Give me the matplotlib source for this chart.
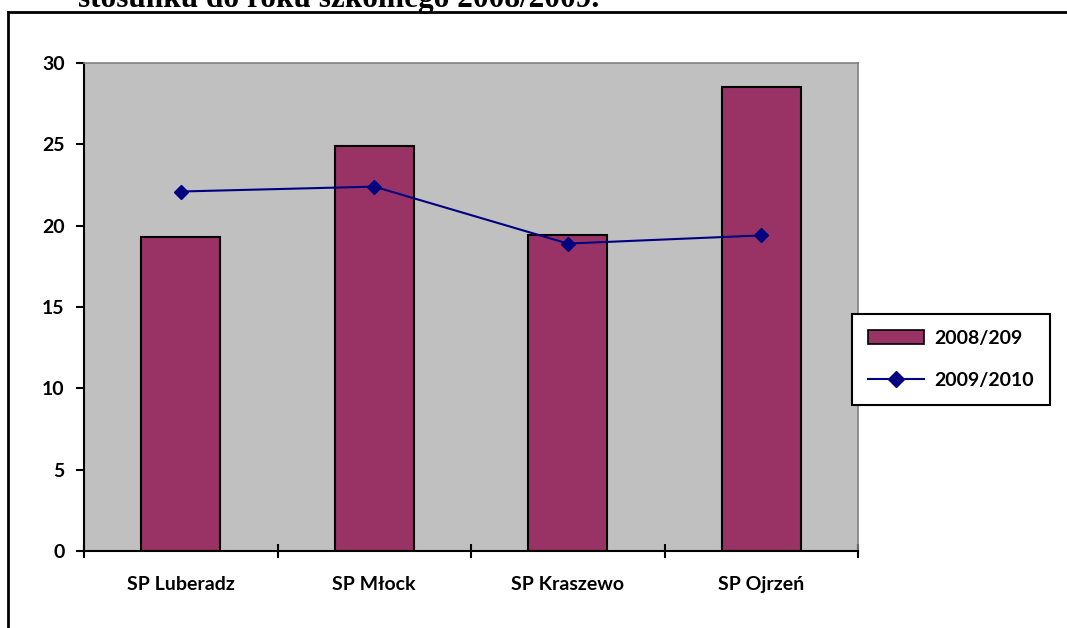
import matplotlib.pyplot as plt
import matplotlib.patches as mpatches
from matplotlib.lines import Line2D
import numpy as np

# dane z wykresu
szkoly = ["SP Luberadz", "SP Młock", "SP Kraszewo", "SP Ojrzeń"]
rok_2008 = [19.3, 24.9, 19.4, 28.5]
rok_2009 = [22.1, 22.4, 18.9, 19.4]
etykiety = ["2008/209", "2009/2010"]
tytul = "stosunku do roku szkolnego 2008/2009."

plt.rcParams['font.family'] = ['Lato', 'DejaVu Sans']

fig = plt.figure(figsize=(10.67, 6.28), dpi=100)
ax = fig.add_axes([84/1067, 1-551/628, (858-84)/1067, (551-63)/628])

x = np.arange(len(szkoly))
ax.bar(x, rok_2008, width=0.41, color="#993366", edgecolor="black", linewidth=1.5, zorder=2)
ax.plot(x, rok_2009, color="#000080", marker="D", markersize=7, linewidth=1.5, zorder=3)

ax.set_facecolor("#C0C0C0")
ax.set_xlim(-0.5, len(szkoly) - 0.5)
ax.set_ylim(0, 30)
ax.set_yticks(range(0, 31, 5))

# tick na granicach kategorii, etykiety pośrodku
ax.set_xticks(np.arange(-0.5, len(szkoly), 1))
ax.set_xticklabels([])
ax.set_xticks(x, minor=True)
ax.set_xticklabels(szkoly, minor=True, fontweight="bold", fontsize=14)
ax.tick_params(axis="x", which="major", direction="inout", length=10, width=1.5)
ax.tick_params(axis="x", which="minor", length=0, pad=18)
ax.tick_params(axis="y", direction="out", length=6, width=1.5, labelsize=14, pad=8)
for t in ax.get_yticklabels():
    t.set_fontweight("bold")

for s in ["left", "bottom"]:
    ax.spines[s].set_linewidth(1.5)
    ax.spines[s].set_color("black")
for s in ["top", "right"]:
    ax.spines[s].set_linewidth(1.2)
    ax.spines[s].set_color("#808080")

# obramowanie całego wykresu
fig.add_artist(plt.Line2D([8/1067, 8/1067], [0, 1-12/628], color="black", linewidth=2, transform=fig.transFigure))
fig.add_artist(plt.Line2D([8/1067, 1], [1-12/628, 1-12/628], color="black", linewidth=2, transform=fig.transFigure))

fig.text(78/1067, 1-7/628, tytul, family="Liberation Serif", fontweight="bold",
         fontsize=22.5, va="baseline", ha="left")

uchwyty = [mpatches.Patch(facecolor="#993366", edgecolor="black", linewidth=1.2),
           Line2D([], [], color="#000080", marker="D", markersize=8, linewidth=1.5)]
leg = fig.legend(uchwyty, etykiety, loc="upper left",
                 bbox_to_anchor=(852/1067, 1-314/628), bbox_transform=fig.transFigure,
                 borderaxespad=0, fancybox=False, framealpha=1, edgecolor="black",
                 prop={"weight": "bold", "size": 14}, handlelength=2.9,
                 labelspacing=1.3, borderpad=0.8, handletextpad=0.55, handleheight=0.8)
leg.get_frame().set_linewidth(1.5)

fig.savefig("out.png", dpi=100)
